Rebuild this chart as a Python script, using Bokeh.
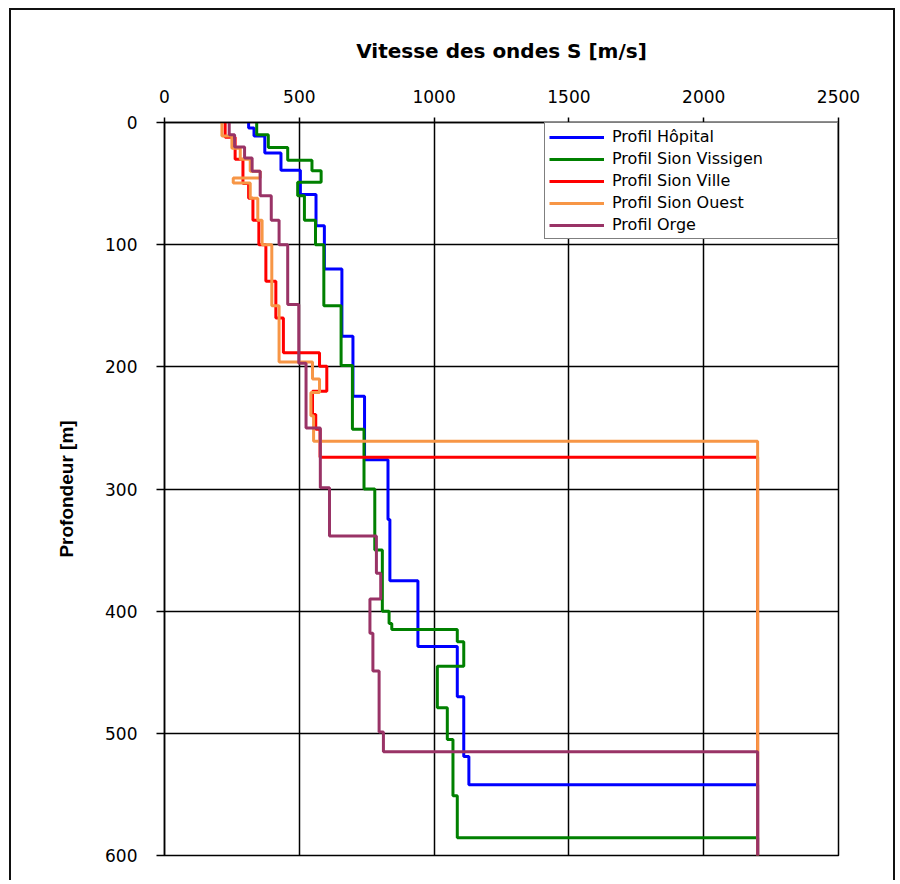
from bokeh.plotting import figure
from bokeh.models import FixedTicker
from bokeh.embed import file_html
from bokeh.resources import INLINE

# ---------------- data ----------------
x_ticks = [0, 500, 1000, 1500, 2000, 2500]
y_ticks = [0, 100, 200, 300, 400, 500, 600]

# Profil Hôpital : layer boundaries (m) and Vs (m/s) of each layer
hopital_depth = [0, 4.5, 11, 25, 39, 59, 84.5, 120, 175, 224, 276, 325, 375, 429, 470, 519, 542, 600]
hopital_vs = [312, 332, 372, 432, 504, 562, 593, 658, 699, 742, 829, 836, 940, 1086, 1110, 1129, 2200]

# Profil Sion Vissigen
vissigen_depth = [0, 10, 20.5, 31, 39.5, 49, 60, 80, 100, 150, 199, 251, 300, 350, 400, 410, 415,
                  425, 445, 479, 505, 551, 585.5, 600]
vissigen_vs = [342, 385, 457, 547, 581, 494, 519, 560, 591, 655, 697, 740, 780, 808, 833, 843, 1086,
               1110, 1012, 1049, 1070, 1086, 2200]

# Profil Sion Ville
ville_depth = [0, 12, 30, 50, 62, 80, 100, 130, 160, 188.5, 199.5, 220, 239, 251, 274, 600]
ville_vs = [225, 262, 291, 312, 328, 350, 376, 413, 441, 575, 602, 549, 561, 577, 2200]

# Profil Sion Ouest
ouest_depth = [0, 11, 21, 30, 40, 45.5, 49.5, 62, 80, 100, 150, 196, 210, 221, 240, 261, 600]
ouest_vs = [213, 250, 281, 318, 355, 255, 318, 346, 362, 398, 425, 549, 575, 543, 553, 2200]

# Profil Orge
orge_depth = [0, 10, 20, 29, 40, 60, 80, 100, 149, 197, 250, 299, 338.5, 369, 390, 418, 449, 499, 515, 600]
orge_vs = [240, 260, 297, 325, 355, 396, 425, 457, 498, 525, 578, 612, 786, 802, 762, 773, 796, 812, 2200]

series_names = ["Profil Hôpital", "Profil Sion Vissigen", "Profil Sion Ville",
                "Profil Sion Ouest", "Profil Orge"]
series_colors = ["#0000FF", "#008000", "#FF0000", "#F79646", "#993366"]
series_data = [(hopital_depth, hopital_vs), (vissigen_depth, vissigen_vs),
               (ville_depth, ville_vs), (ouest_depth, ouest_vs), (orge_depth, orge_vs)]


def step_path(depths, vs):
    xs, ys = [], []
    for i, v in enumerate(vs):
        xs += [v, v]
        ys += [depths[i], depths[i + 1]]
    return xs, ys


# ---------------- figure ----------------
p = figure(width=886, height=872, x_range=(0, 2500), y_range=(600, 0),
           x_axis_location="above", output_backend="svg", toolbar_location=None,
           min_border_left=153, min_border_right=59, min_border_top=112, min_border_bottom=27,
           title="Vitesse des ondes S [m/s]")
p.styles = {"margin-left": "9px", "margin-top": "8px",
            "border-left": "2px solid #111", "border-top": "2px solid #111",
            "border-right": "2px solid #111"}
p.background_fill_color = "white"
p.border_fill_color = "white"
p.outline_line_color = "black"
p.outline_line_width = 1.5

p.title.align = "center"
p.title.text_font = "DejaVu Sans"
p.title.text_font_size = "20px"
p.title.text_font_style = "bold"
p.title.text_color = "black"
p.title.standoff = 48

for name, color, (d, v) in zip(series_names, series_colors, series_data):
    xs, ys = step_path(d, v)
    p.line(xs, ys, line_color=color, line_width=3, legend_label=name)

xa = p.xaxis[0]
xa.ticker = FixedTicker(ticks=x_ticks)
xa.major_tick_in = 0
xa.major_tick_out = 5
xa.minor_tick_line_color = None
xa.axis_line_color = "black"
xa.axis_line_width = 1.5
xa.major_tick_line_color = "black"
xa.major_tick_line_width = 1.5
xa.major_label_text_font = "DejaVu Sans"
xa.major_label_text_font_size = "17px"
xa.major_label_text_color = "black"
xa.major_label_standoff = 15

ya = p.yaxis[0]
ya.ticker = FixedTicker(ticks=y_ticks)
ya.major_tick_in = 0
ya.major_tick_out = 8
ya.minor_tick_line_color = None
ya.axis_line_color = "black"
ya.axis_line_width = 1.5
ya.major_tick_line_color = "black"
ya.major_tick_line_width = 1.5
ya.major_label_text_font = "DejaVu Sans"
ya.major_label_text_font_size = "17px"
ya.major_label_text_color = "black"
ya.major_label_standoff = 19
ya.axis_label = "Profondeur [m]"
ya.axis_label_text_font = "Liberation Sans Narrow, Liberation Sans"
ya.axis_label_text_font_size = "19px"
ya.axis_label_text_font_style = "bold"
ya.axis_label_text_color = "black"
ya.axis_label_standoff = 25

p.xgrid.ticker = FixedTicker(ticks=x_ticks)
p.ygrid.ticker = FixedTicker(ticks=y_ticks)
for g in (p.xgrid[0], p.ygrid[0]):
    g.grid_line_color = "black"
    g.grid_line_width = 1.5

lg = p.legend[0]
lg.location = "top_right"
lg.margin = 0
lg.padding = 4
lg.spacing = 3
lg.glyph_width = 55
lg.glyph_height = 16
lg.label_height = 16
lg.label_width = 221
lg.label_standoff = 8
lg.label_text_font = "DejaVu Sans"
lg.label_text_font_size = "16px"
lg.label_text_color = "black"
lg.border_line_color = "black"
lg.border_line_width = 1.5
lg.background_fill_color = "white"
lg.background_fill_alpha = 1.0

open("out.html", "w").write(file_html(p, INLINE))
